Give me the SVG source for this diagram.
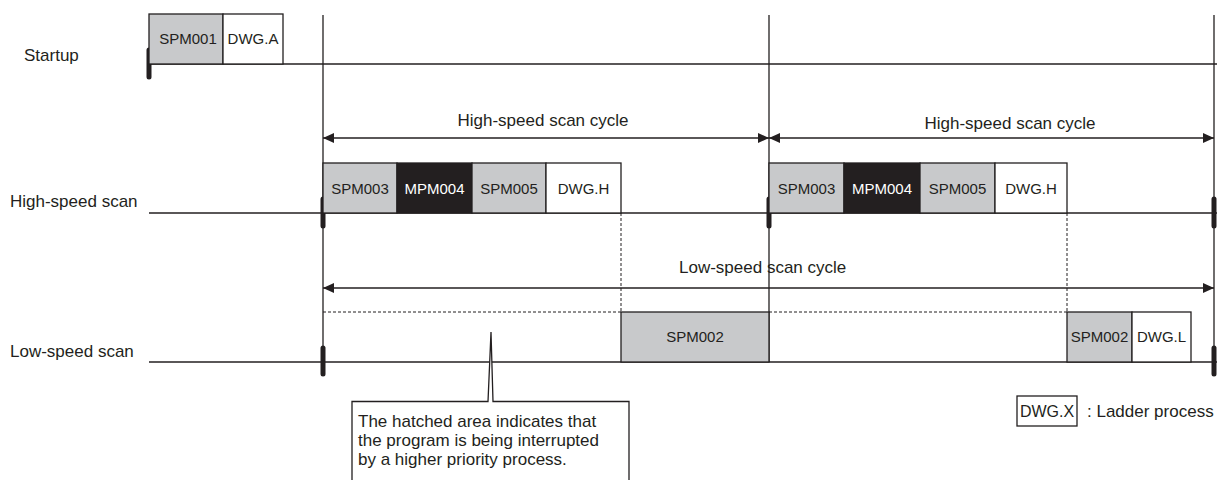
<svg xmlns="http://www.w3.org/2000/svg" width="1217" height="480" viewBox="0 0 1217 480">
<style>
text{font-family:"Liberation Sans",Arial,sans-serif;fill:#231f20}
.lbl{font-size:17px}
.bx{font-size:15px;text-anchor:middle}
.wt{fill:#ffffff}
.g{fill:#c8c9cb;stroke:#231f20;stroke-width:1.3}
.w{fill:#ffffff;stroke:#231f20;stroke-width:1.3}
.k{fill:#231f20;stroke:#231f20;stroke-width:1.3}
.ln{stroke:#231f20;stroke-width:1.3;fill:none}
.dash{stroke:#231f20;stroke-width:1;stroke-dasharray:3 2;fill:none}
.tick{stroke:#231f20;stroke-width:5;stroke-linecap:round}
</style>
<defs>
<marker id="ah" viewBox="0 0 11 10" refX="11" refY="5" markerWidth="11" markerHeight="10" markerUnits="userSpaceOnUse" orient="auto-start-reverse">
<path d="M0,0 L11,5 L0,10 Z" fill="#231f20"/>
</marker>
</defs>
<rect width="1217" height="480" fill="#ffffff"/>

<g id="labels">
<text class="lbl" x="24" y="61">Startup</text>
<text class="lbl" x="10" y="207">High-speed scan</text>
<text class="lbl" x="10" y="357">Low-speed scan</text>
</g>

<g id="connectors">
<line class="ln" x1="149" y1="64" x2="1217" y2="64"/>
<line class="ln" x1="149" y1="213" x2="1217" y2="213"/>
<line class="ln" x1="149" y1="362" x2="1217" y2="362"/>
<line class="ln" x1="323" y1="15" x2="323" y2="374"/>
<line class="ln" x1="769" y1="15" x2="769" y2="362"/>
<line class="ln" x1="1214" y1="15" x2="1214" y2="374"/>
<line class="ln" x1="323" y1="138" x2="769" y2="138" marker-start="url(#ah)" marker-end="url(#ah)"/>
<line class="ln" x1="769" y1="138" x2="1214" y2="138" marker-start="url(#ah)" marker-end="url(#ah)"/>
<line class="ln" x1="323" y1="288" x2="1214" y2="288" marker-start="url(#ah)" marker-end="url(#ah)"/>
<line class="dash" x1="621" y1="213" x2="621" y2="312"/>
<line class="dash" x1="1067" y1="213" x2="1067" y2="312"/>
<line class="dash" x1="323" y1="312" x2="621" y2="312"/>
<line class="dash" x1="769" y1="312" x2="1067" y2="312"/>
<line class="tick" x1="149" y1="50" x2="149" y2="77"/>
<line class="tick" x1="323" y1="199" x2="323" y2="226"/>
<line class="tick" x1="769" y1="199" x2="769" y2="226"/>
<line class="tick" x1="1214" y1="199" x2="1214" y2="226"/>
<line class="tick" x1="323" y1="348" x2="323" y2="374"/>
<line class="tick" x1="1214" y1="348" x2="1214" y2="374"/>
</g>

<g id="cycle-labels">
<text class="lbl" x="543" y="126" text-anchor="middle">High-speed scan cycle</text>
<text class="lbl" x="1010" y="129" text-anchor="middle">High-speed scan cycle</text>
<text class="lbl" x="679" y="273">Low-speed scan cycle</text>
</g>

<g id="startup-block">
<rect class="g" x="149" y="14" width="74" height="50"/>
<rect class="w" x="223" y="14" width="60" height="50"/>
<text class="bx" x="188" y="44">SPM001</text>
<text class="bx" x="253" y="44">DWG.A</text>
</g>

<g id="hs-block-1">
<rect class="g" x="323" y="163" width="74" height="50"/>
<rect class="k" x="397" y="163" width="75" height="50"/>
<rect class="g" x="472" y="163" width="74" height="50"/>
<rect class="w" x="546" y="163" width="75" height="50"/>
<text class="bx" x="360" y="194">SPM003</text>
<text class="bx wt" x="434.5" y="194">MPM004</text>
<text class="bx" x="509" y="194">SPM005</text>
<text class="bx" x="583.5" y="194">DWG.H</text>
</g>

<g id="hs-block-2">
<rect class="g" x="769" y="163" width="75" height="50"/>
<rect class="k" x="844" y="163" width="76" height="50"/>
<rect class="g" x="920" y="163" width="75" height="50"/>
<rect class="w" x="995" y="163" width="72" height="50"/>
<text class="bx" x="806.5" y="194">SPM003</text>
<text class="bx wt" x="882" y="194">MPM004</text>
<text class="bx" x="957.5" y="194">SPM005</text>
<text class="bx" x="1031" y="194">DWG.H</text>
</g>

<g id="ls-block-1">
<rect class="g" x="621" y="312" width="148" height="50"/>
<text class="bx" x="695" y="342">SPM002</text>
</g>

<g id="ls-block-2">
<rect class="g" x="1067" y="312" width="65" height="50"/>
<rect class="w" x="1132" y="312" width="59" height="50"/>
<text class="bx" x="1099.5" y="342">SPM002</text>
<text class="bx" x="1161.5" y="342">DWG.L</text>
</g>

<g id="callout">
<path class="ln" d="M352,481 L352,401.5 L488,401.5 L491,332 L493,401.5 L629,401.5 L629,481" fill="#ffffff" style="fill:#ffffff"/>
<text class="lbl" x="358" y="427">The hatched area indicates that</text>
<text class="lbl" x="358" y="446">the program is being interrupted</text>
<text class="lbl" x="358" y="465">by a higher priority process.</text>
</g>

<g id="legend">
<rect class="w" x="1017" y="396" width="60" height="30"/>
<text class="bx" x="1047" y="417" style="font-size:16px">DWG.X</text>
<text class="lbl" x="1087" y="417">: Ladder process</text>
</g>
</svg>
